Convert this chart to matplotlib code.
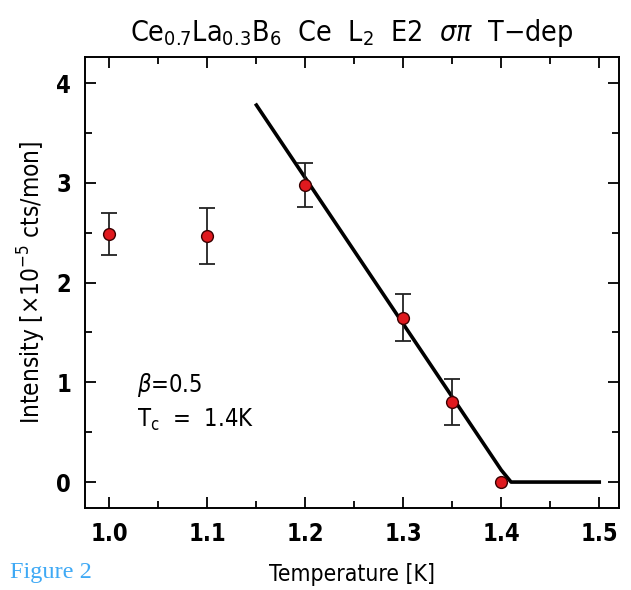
import matplotlib
matplotlib.use("Agg")
import matplotlib.pyplot as plt
from matplotlib.ticker import MultipleLocator

plt.rcParams['font.family'] = ['DejaVu Sans']
plt.rcParams['font.stretch'] = 'condensed'
plt.rcParams['mathtext.fontset'] = 'custom'
plt.rcParams['mathtext.rm'] = 'DejaVu Sans:stretch=condensed'
plt.rcParams['mathtext.it'] = 'DejaVu Sans:italic:stretch=condensed'

temperature = [1.00, 1.10, 1.20, 1.30, 1.35, 1.40]
intensity = [2.49, 2.47, 2.98, 1.65, 0.80, 0.00]
intensity_err = [0.21, 0.28, 0.22, 0.24, 0.23, 0.0]

fit_T = [1.15, 1.40, 1.41, 1.50]
fit_I = [3.78, 0.12, 0.00, 0.00]

xticks = [1.0, 1.1, 1.2, 1.3, 1.4, 1.5]
yticks = [0, 1, 2, 3, 4]

fig = plt.figure(figsize=(6.31, 5.90), dpi=100)
ax = fig.add_axes([0.1347, 0.139, 0.846, 0.764])

ax.plot(fit_T, fit_I, color='black', lw=2.6, zorder=2)
eT = [t for t, e in zip(temperature, intensity_err) if e > 0]
eI = [i for i, e in zip(intensity, intensity_err) if e > 0]
eE = [e for e in intensity_err if e > 0]
ax.errorbar(eT, eI, yerr=eE, fmt='none',
            ecolor='#222222', elinewidth=1.3, capsize=6, capthick=1.3, zorder=3)
ax.plot(temperature, intensity, 'o', ms=8.5, mfc='#e0191e', mec='#3a0000',
        mew=1.0, zorder=4)

ax.set_xlim(0.975, 1.52)
ax.set_ylim(-0.26, 4.26)
ax.set_xticks(xticks)
ax.set_xticklabels([f"{t:.1f}" for t in xticks])
ax.set_yticks(yticks)
ax.xaxis.set_minor_locator(MultipleLocator(0.05))
ax.yaxis.set_minor_locator(MultipleLocator(0.5))
ax.tick_params(which='both', direction='in', top=True, right=True,
               labelsize=17, width=1.3)
ax.tick_params(which='major', length=8, pad=10)
ax.tick_params(which='minor', length=5)
for lab in ax.get_xticklabels() + ax.get_yticklabels():
    lab.set_fontweight('semibold')
for s in ax.spines.values():
    s.set_linewidth(1.4)

ax.set_title(r"Ce$_{0.7}$La$_{0.3}$B$_6$  Ce  L$_2$  E2  $\sigma\pi$  T$-$dep",
             fontsize=20.5, pad=12)
ax.set_xlabel("Temperature [K]", fontsize=16.5, labelpad=12)
ax.set_ylabel(r"Intensity [$\times$10$^{-5}$ cts/mon]", fontsize=17.5, labelpad=6)

ax.text(1.028, 0.97, r"$\beta$=0.5", fontsize=17, va='center')
ax.text(1.028, 0.62, r"T$_\mathrm{c}$  =  1.4K", fontsize=17, va='center')

fig.text(0.016, 0.02, "Figure 2", fontsize=17.5, color='#3fa9f5',
         family='Liberation Serif', stretch='normal')

fig.savefig("out.png", dpi=100)
